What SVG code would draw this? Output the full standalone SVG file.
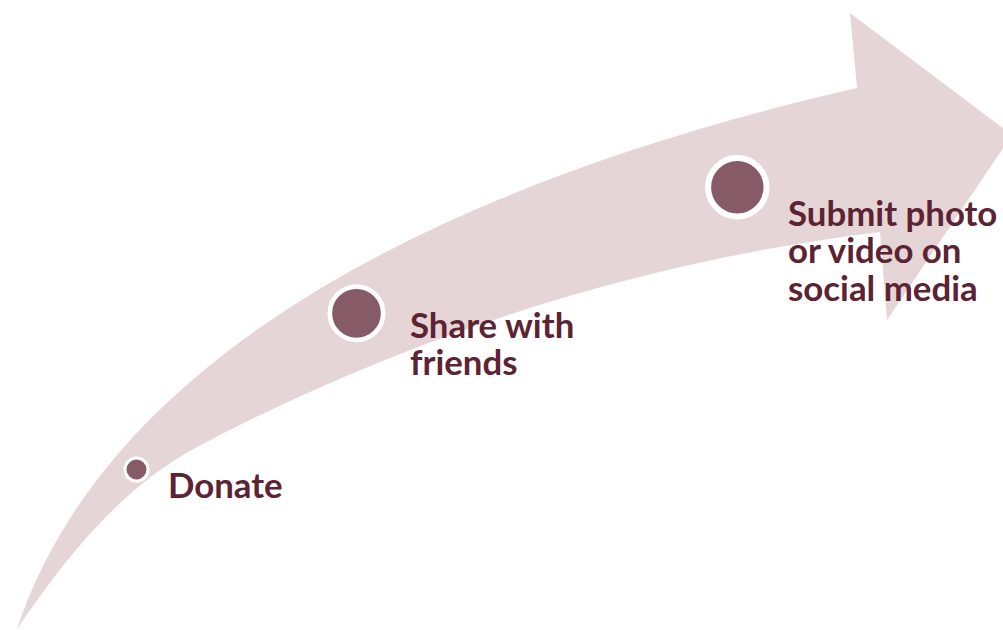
<svg xmlns="http://www.w3.org/2000/svg" width="1003" height="630" viewBox="0 0 1003 630">
<style>
.lbl{font-family:Lato,"Liberation Sans",sans-serif;font-weight:bold;font-size:34.8px;fill:#5C2333}
.dot{fill:#875A68;stroke:#ffffff}
</style>
<rect width="1003" height="630" fill="#ffffff"/>
<g id="arrow">
<path d="M17,629 C113,340 476,175 857,88 L850,13 L1012,135 L887,320 L880,232 C642,261 409,335 197,447 C122,487 65,558 17,629 Z" fill="#E6D5D6"/>
</g>
<g id="donate">
<circle class="dot" cx="136.5" cy="469.5" r="11.5" stroke-width="3"/>
<text class="lbl" x="168" y="498">Donate</text>
</g>
<g id="share">
<circle class="dot" cx="356.5" cy="313.3" r="26.7" stroke-width="4.7"/>
<text class="lbl" x="410" y="338">Share with</text>
<text class="lbl" x="410" y="375">friends</text>
</g>
<g id="submit">
<circle class="dot" cx="737.3" cy="187.3" r="29.2" stroke-width="6"/>
<text class="lbl" x="788" y="225.5">Submit photo</text>
<text class="lbl" x="788" y="263">or video on</text>
<text class="lbl" x="788" y="300.5">social media</text>
</g>
<g id="connectors"/>
</svg>
